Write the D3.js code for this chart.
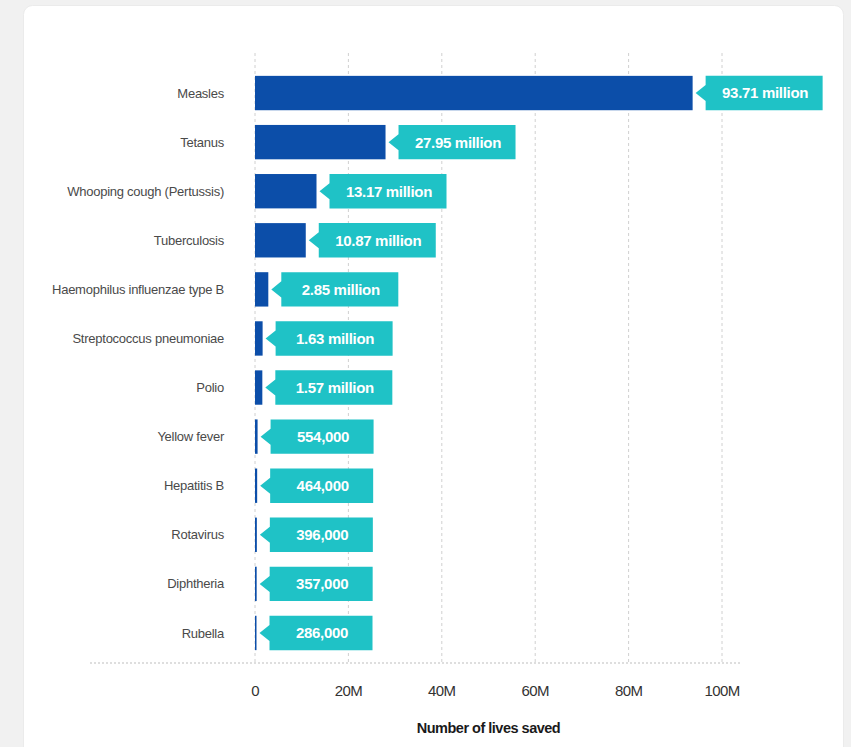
<!DOCTYPE html>
<html>
<head>
<meta charset="utf-8">
<script src="https://cdn.jsdelivr.net/npm/d3@7"></script>
<style>
  html, body { margin: 0; padding: 0; background: #f1f1f1; }
  #chart { width: 851px; height: 747px; }
</style>
</head>
<body>
<div id="chart"></div>
<script>
// Data.
const diseases = [
  "Measles", "Tetanus", "Whooping cough (Pertussis)", "Tuberculosis",
  "Haemophilus influenzae type B", "Streptococcus pneumoniae", "Polio",
  "Yellow fever", "Hepatitis B", "Rotavirus", "Diphtheria", "Rubella"
];
const livesSaved = [
  93710000, 27950000, 13170000, 10870000, 2850000, 1630000, 1570000,
  554000, 464000, 396000, 357000, 286000
];
const valueLabels = [
  "93.71 million", "27.95 million", "13.17 million", "10.87 million",
  "2.85 million", "1.63 million", "1.57 million",
  "554,000", "464,000", "396,000", "357,000", "286,000"
];
const tickValues = [0, 20e6, 40e6, 60e6, 80e6, 100e6];
const tickLabels = ["0", "20M", "40M", "60M", "80M", "100M"];

const data = diseases.map((name, i) => ({ name, value: livesSaved[i], label: valueLabels[i] }));

const width = 851, height = 747;
const font = "'Liberation Sans', Arial, sans-serif";
const barColor = "#0c4ea9";
const tagColor = "#1fc2c6";

const svg = d3.select("#chart")
  .append("svg")
  .attr("width", width)
  .attr("height", height)
  .attr("font-family", font);

// White card.
svg.append("rect")
  .attr("x", 23.5)
  .attr("y", 5.5)
  .attr("width", 820)
  .attr("height", 800)
  .attr("rx", 9)
  .attr("fill", "#fff")
  .attr("stroke", "#ebebeb");

// Scales.
const x = d3.scaleLinear().domain([0, 100e6]).range([255, 722]);
const y = d3.scaleBand()
  .domain(diseases)
  .range([68.5, 657.5])
  .paddingInner(0.3)
  .paddingOuter(0.15);

const gridTop = 53, gridBottom = 663;

// Vertical dashed gridlines.
svg.append("g")
  .selectAll("line")
  .data(tickValues)
  .join("line")
  .attr("x1", (d) => x(d))
  .attr("x2", (d) => x(d))
  .attr("y1", gridTop)
  .attr("y2", gridBottom)
  .attr("stroke", "#d0d0d0")
  .attr("stroke-width", 1)
  .attr("stroke-dasharray", "3,3");

// Horizontal dotted baseline.
svg.append("line")
  .attr("x1", 90)
  .attr("x2", 740)
  .attr("y1", gridBottom)
  .attr("y2", gridBottom)
  .attr("stroke", "#bdbdbd")
  .attr("stroke-width", 1)
  .attr("stroke-dasharray", "2,2");

// Tick labels.
svg.append("g")
  .selectAll("text")
  .data(tickValues)
  .join("text")
  .attr("x", (d) => x(d))
  .attr("y", 696)
  .attr("text-anchor", "middle")
  .attr("font-size", 15)
  .attr("letter-spacing", "-0.6px")
  .attr("fill", "#333")
  .text((d, i) => tickLabels[i]);

// Axis title.
svg.append("text")
  .attr("x", (x(0) + x(100e6)) / 2)
  .attr("y", 733)
  .attr("text-anchor", "middle")
  .attr("font-size", 14.5)
  .attr("font-weight", "bold")
  .attr("letter-spacing", "-0.5px")
  .attr("fill", "#1a1a1a")
  .text("Number of lives saved");

// Category labels.
svg.append("g")
  .selectAll("text")
  .data(data)
  .join("text")
  .attr("x", 224)
  .attr("y", (d) => y(d.name) + y.bandwidth() / 2)
  .attr("dy", "0.35em")
  .attr("text-anchor", "end")
  .attr("font-size", 13)
  .attr("letter-spacing", "-0.25px")
  .attr("fill", "#4a4a4a")
  .text((d) => d.name);

// Bars.
svg.append("g")
  .selectAll("rect")
  .data(data)
  .join("rect")
  .attr("x", x(0))
  .attr("y", (d) => y(d.name))
  .attr("width", (d) => Math.max(1.5, x(d.value) - x(0)))
  .attr("height", y.bandwidth())
  .attr("fill", barColor);

// Value tags with a left-pointing notch.
const tags = svg.append("g")
  .selectAll("g")
  .data(data)
  .join("g")
  .attr("transform", (d) => `translate(${Math.max(x(d.value), x(0) + 1.5)},${y(d.name)})`);

tags.each(function (d) {
  const g = d3.select(this);
  const w = d.label.includes("million") ? 117 : 103;
  const h = y.bandwidth();
  const x0 = 13, tip = 3, notch = 8;
  g.append("path")
    .attr("d", `M${x0},0 H${x0 + w} V${h} H${x0} V${h / 2 + notch} L${tip},${h / 2} L${x0},${h / 2 - notch} Z`)
    .attr("fill", tagColor);
  g.append("text")
    .attr("x", x0 + w / 2 + 1)
    .attr("y", h / 2)
    .attr("dy", "0.36em")
    .attr("text-anchor", "middle")
    .attr("font-size", 15)
    .attr("font-weight", "bold")
    .attr("letter-spacing", "-0.3px")
    .attr("fill", "#fff")
    .text(d.label);
});
</script>
</body>
</html>
